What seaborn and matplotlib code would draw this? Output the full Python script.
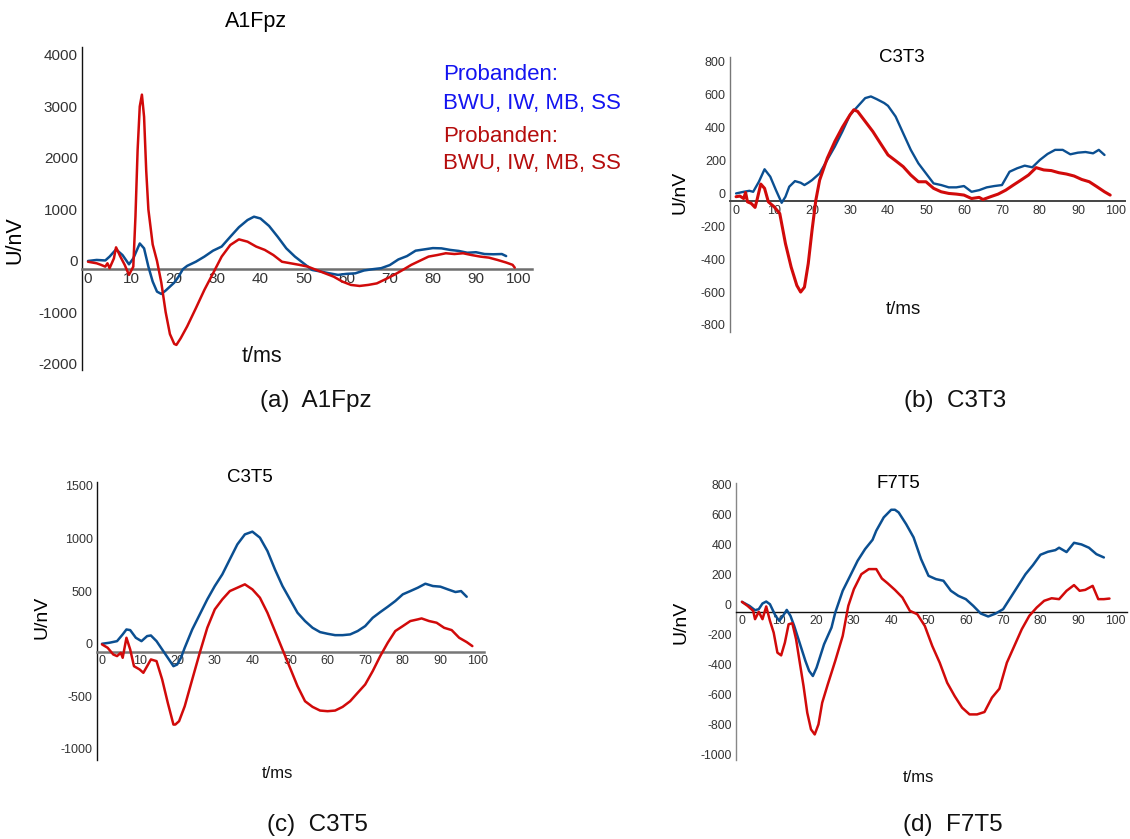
import numpy as np
import pandas as pd
import matplotlib
matplotlib.use("Agg")
import matplotlib.pyplot as plt
import seaborn as sns

# ---------------------------------------------------------------- data
# Evoked potentials, time in ms, amplitude in nV

# A1Fpz
t_a_blue = [0, 2, 4, 5, 6.5, 8, 9.5, 10.5, 12, 13, 14, 15, 16, 17, 18, 20, 21, 22, 23, 25,
            27, 29, 31, 33, 35, 37, 38.5, 40, 42, 44, 46, 48, 50, 52, 54, 56, 58, 60, 62, 64,
            66, 68, 70, 72, 74, 76, 78, 80, 82, 84, 86, 88, 90, 92, 94, 96, 97]
u_a_blue = [0, 20, 10, 85, 225, 115, -65, 50, 340, 245, -110, -400, -595, -640, -575, -420, -305, -160, -95, -15,
            85, 200, 280, 470, 655, 795, 860, 825, 680, 470, 245, 85, -45, -175, -205, -240, -270, -250, -240, -185,
            -160, -140, -80, 30, 95, 200, 225, 250, 245, 215, 195, 160, 170, 135, 130, 135, 95]
t_a_red = [0, 1, 2, 3, 4, 4.5, 5, 6, 6.5, 7.5, 8.5, 9.5, 10.5, 11, 11.5, 12, 12.5, 13, 13.5, 14,
           15, 16, 17, 18, 19, 20, 20.5, 21.5, 23, 25, 27, 29, 31, 33, 35, 37, 39, 41, 43, 45,
           47, 49, 51, 53, 55, 57, 59, 61, 63, 65, 67, 69, 71, 73, 75, 77, 79, 81, 83, 85,
           87, 89, 91, 93, 95, 97, 98.5, 99]
u_a_red = [-15, -30, -45, -75, -110, -45, -140, 50, 265, 85, -75, -270, -110, 860, 2150, 3000, 3230, 2800, 1750, 1000,
           320, 0, -420, -990, -1420, -1610, -1630, -1500, -1270, -920, -560, -240, 85, 310, 420, 375, 280, 215, 115, -15,
           -45, -75, -110, -175, -240, -305, -400, -465, -485, -465, -435, -355, -270, -175, -75, 5, 85, 115, 150, 135,
           150, 115, 85, 65, 20, -30, -75, -130]

# C3T3
t_b_blue = [0, 2, 3.5, 4.5, 6, 7.5, 9, 10.5, 12, 13, 14, 15.5, 17, 18, 19, 20, 22, 24, 26, 28,
            30, 32, 34, 35.5, 37, 39, 40, 42, 44, 46, 48, 50, 52, 54, 56, 58, 60, 62, 64, 66,
            68, 70, 72, 74, 76, 78, 80, 82, 84, 86, 88, 90, 92, 94, 95.5, 97]
u_b_blue = [0, 10, 16, 10, 71, 147, 102, 20, -57, -20, 41, 75, 65, 51, 65, 81, 122, 204, 285, 377,
            478, 529, 580, 590, 574, 550, 533, 468, 366, 265, 183, 122, 61, 51, 37, 37, 45, 10, 20, 37,
            45, 51, 132, 153, 169, 159, 204, 240, 265, 265, 238, 248, 252, 244, 265, 234]
t_b_red = [0, 1, 2, 2.5, 3, 4, 5, 5.5, 6.5, 7.5, 8.5, 10, 11.5, 13, 14.5, 16, 17, 18, 19, 20,
           21, 22, 24, 26, 28, 30, 31, 32, 34, 36, 38, 40, 42, 44, 46, 48, 50, 52, 54, 56,
           58, 60, 62, 64, 65, 67, 69, 71, 73, 75, 77, 79, 81, 83, 85, 87, 89, 91, 93, 95,
           97, 98.5]
u_b_red = [-20, -16, -31, 6, -51, -61, -85, -41, 57, 31, -51, -81, -122, -305, -448, -560, -600, -570, -427, -224,
           -41, 81, 214, 316, 403, 478, 509, 499, 438, 377, 305, 234, 199, 163, 112, 71, 71, 31, 10, 0,
           -4, -10, -31, -24, -37, -20, -4, 20, 51, 81, 112, 157, 143, 139, 126, 118, 106, 85, 71, 41,
           10, -10]

# C3T5
t_c_blue = [0, 2, 4, 5.5, 6.5, 7.5, 9, 10.5, 12, 13, 14.5, 16, 17.5, 19, 20, 21, 22, 24, 26, 28,
            30, 32, 34, 36, 38, 40, 42, 44, 46, 48, 50, 52, 54, 56, 58, 60, 62, 64, 66, 68,
            70, 72, 74, 76, 78, 80, 82, 84, 86, 88, 90, 92, 94, 95.5, 97]
u_c_blue = [0, 10, 25, 89, 136, 130, 57, 25, 73, 79, 25, -54, -133, -213, -197, -133, -38, 136, 279, 422,
            549, 660, 803, 945, 1040, 1066, 1009, 882, 707, 549, 422, 295, 216, 152, 111, 95, 82, 82, 89, 121,
            168, 247, 301, 352, 406, 470, 501, 533, 571, 549, 543, 517, 492, 501, 447]
t_c_red = [0, 1.5, 3, 4, 5, 5.5, 6.5, 7.5, 8.5, 10, 11, 12, 13, 14.5, 16, 17.5, 19, 19.5, 20.5, 22,
           24, 26, 28, 30, 32, 34, 36, 38, 40, 42, 44, 46, 48, 50, 52, 54, 56, 58, 60, 62,
           64, 66, 68, 70, 72, 74, 76, 78, 80, 82, 84, 85, 87, 89, 91, 93, 95, 97, 98.5]
u_c_red = [-6, -38, -102, -117, -86, -133, 57, -54, -213, -244, -276, -213, -149, -165, -339, -562, -768, -768, -736, -594,
           -339, -86, 152, 327, 422, 501, 533, 565, 517, 438, 295, 121, -54, -228, -403, -546, -600, -635, -641, -635,
           -600, -546, -466, -387, -260, -117, 10, 121, 168, 216, 232, 241, 216, 200, 152, 130, 57, 16, -22]

# F7T5
t_d_blue = [0, 2, 3.5, 4.5, 5.5, 6.5, 7.5, 9, 10, 11, 12, 13, 14, 15, 16, 17, 18, 19, 20, 21,
            22, 24, 25, 27, 29, 31, 33, 35, 36, 38, 40, 41, 42, 44, 46, 48, 50, 52, 54, 56,
            58, 60, 62, 64, 66, 68, 70, 72, 74, 76, 78, 80, 82, 84, 85, 87, 89, 91, 93, 95, 97]
u_d_blue = [18, -9, -38, -31, 7, 20, 2, -76, -109, -76, -36, -76, -143, -221, -299, -377, -444, -478, -422, -344,
            -266, -154, -54, 92, 192, 293, 371, 433, 494, 583, 634, 634, 616, 538, 449, 304, 192, 170, 159, 92,
            58, 36, -9, -60, -80, -60, -31, 47, 125, 203, 264, 333, 353, 364, 380, 351, 413, 402, 380, 337, 315]
t_d_red = [0, 1.5, 3, 3.5, 4.5, 5.5, 6.5, 7.5, 8.5, 9.5, 10.5, 11.5, 12.5, 13.5, 14.5, 15.5, 16.5, 17.5, 18.5, 19.5,
           20.5, 21.5, 23, 25, 27, 28.5, 30, 32, 34, 36, 37.5, 39, 41, 43, 45, 47, 49, 51, 53, 55,
           57, 59, 61, 63, 65, 67, 69, 71, 73, 75, 77, 79, 81, 83, 85, 87, 89, 90.5, 92, 94,
           95.5, 97, 98.5]
u_d_red = [18, -9, -42, -98, -49, -98, -13, -109, -188, -322, -340, -255, -132, -125, -232, -389, -545, -724, -835, -869,
           -802, -657, -534, -377, -210, -9, 103, 203, 237, 237, 174, 143, 98, 47, -42, -65, -143, -277, -389, -523,
           -612, -690, -735, -735, -719, -623, -563, -389, -277, -165, -76, -20, 25, 42, 36, 92, 130, 92, 98, 125,
           36, 36, 40]

panel_titles = ["A1Fpz", "C3T3", "C3T5", "F7T5"]
captions = ["(a)  A1Fpz", "(b)  C3T3", "(c)  C3T5", "(d)  F7T5"]
x_ticks = list(range(0, 101, 10))
y_ticks = [
    [-2000, -1000, 0, 1000, 2000, 3000, 4000],
    [-800, -600, -400, -200, 0, 200, 400, 600, 800],
    [-1000, -500, 0, 500, 1000, 1500],
    [-1000, -800, -600, -400, -200, 0, 200, 400, 600, 800],
]
legend_lines = ["Probanden:", "BWU, IW, MB, SS"]

series = [
    (t_a_blue, u_a_blue, t_a_red, u_a_red),
    (t_b_blue, u_b_blue, t_b_red, u_b_red),
    (t_c_blue, u_c_blue, t_c_red, u_c_red),
    (t_d_blue, u_d_blue, t_d_red, u_d_red),
]

# ---------------------------------------------------------------- layout
W, H = 1130, 839
BLUE = "#0b4f91"
RED = "#d10a0a"

sns.set_theme(style="white")
plt.rcParams["font.family"] = ["Liberation Sans", "DejaVu Sans"]

fig = plt.figure(figsize=(W / 100, H / 100), dpi=100)
fig.patch.set_facecolor("white")


def rect(l, t, r, b):
    return [l / W, 1 - b / H, (r - l) / W, (b - t) / H]


def ftext(x, y, s, **kw):
    fig.text(x / W, 1 - y / H, s, ha=kw.pop("ha", "center"), va=kw.pop("va", "center"), **kw)


layout = [
    dict(box=(82, 47, 532, 370), xlim=(-1.4, 103), ylim=(-2117, 4155), base=-155,
         tick_fs=11, xtick_fs=11, left_c="#111111", left_lw=1.0, base_c="#6e6e6e", base_lw=1.8,
         title=(256, 22, 15.5), ylab=(15, 240, 15.5), tlab=(262, 357, 15.5), cap=(316, 401, 17.5),
         lw_blue=1.8, lw_red=1.8),
    dict(box=(730, 57, 1125, 332), xlim=(-1.6, 102.4), ylim=(-843, 830), base=-49,
         tick_fs=9, xtick_fs=9, left_c="#777777", left_lw=1.0, base_c="#444444", base_lw=1.4,
         title=(902, 57, 13.5), ylab=(680, 192, 14), tlab=(903, 310, 13.5), cap=(955, 401, 17.5),
         lw_blue=1.7, lw_red=2.2),
    dict(box=(97, 482, 484, 760), xlim=(-1.33, 101.6), ylim=(-1105, 1538), base=-76,
         tick_fs=9, xtick_fs=9, left_c="#111111", left_lw=1.0, base_c="#777777", base_lw=1.8,
         title=(250, 478, 13.5), ylab=(42, 617, 14), tlab=(277, 773, 12), cap=(317, 825, 17.5),
         lw_blue=1.8, lw_red=1.8),
    dict(box=(736, 483, 1127, 760), xlim=(-1.6, 103.2), ylim=(-1040, 813), base=-47,
         tick_fs=8.8, xtick_fs=8.8, left_c="#888888", left_lw=1.0, base_c="#111111", base_lw=1.0,
         title=(898, 483, 13.5), ylab=(681, 622, 14), tlab=(918, 778, 12), cap=(953, 825, 17.5),
         lw_blue=1.8, lw_red=1.8),
]

for i, (spec, (tb, ub, tr, ur)) in enumerate(zip(layout, series)):
    ax = fig.add_axes(rect(*spec["box"]))
    ax.set_facecolor("white")
    blue_df = pd.DataFrame({"t": tb, "U": ub})
    red_df = pd.DataFrame({"t": tr, "U": ur})
    sns.lineplot(data=blue_df, x="t", y="U", color=BLUE, linewidth=spec["lw_blue"],
                 estimator=None, ax=ax, zorder=4)
    sns.lineplot(data=red_df, x="t", y="U", color=RED, linewidth=spec["lw_red"],
                 estimator=None, ax=ax, zorder=5)

    ax.set_xlim(*spec["xlim"])
    ax.set_ylim(*spec["ylim"])
    ax.set_xticks(x_ticks)
    ax.set_xticklabels([str(v) for v in x_ticks])
    ax.set_yticks(y_ticks[i])
    ax.set_yticklabels([str(v) for v in y_ticks[i]])
    ax.set_xlabel("")
    ax.set_ylabel("")
    ax.grid(False)

    for side in ("top", "right"):
        ax.spines[side].set_visible(False)
    ax.spines["left"].set_color(spec["left_c"])
    ax.spines["left"].set_linewidth(spec["left_lw"])
    ax.spines["bottom"].set_position(("data", spec["base"]))
    ax.spines["bottom"].set_color(spec["base_c"])
    ax.spines["bottom"].set_linewidth(spec["base_lw"])
    ax.spines["bottom"].set_zorder(3)

    ax.tick_params(axis="y", length=0, pad=3, labelsize=spec["tick_fs"], labelcolor="#333333")
    ax.tick_params(axis="x", length=0, pad=2.5, labelsize=spec["xtick_fs"], labelcolor="#333333")

    tx, ty, tfs = spec["title"]
    ftext(tx, ty, panel_titles[i], fontsize=tfs, color="black")
    yx, yy, yfs = spec["ylab"]
    ftext(yx, yy, "U/nV", fontsize=yfs, rotation=90, color="black")
    lx, ly, lfs = spec["tlab"]
    ftext(lx, ly, "t/ms", fontsize=lfs, color="#111111")
    cx, cy, cfs = spec["cap"]
    ftext(cx, cy, captions[i], fontsize=cfs, color="#111111")

# group key in panel (a)
ftext(443, 74, legend_lines[0], fontsize=16, color="#1414f0", ha="left")
ftext(443, 103, legend_lines[1], fontsize=16, color="#1414f0", ha="left")
ftext(443, 136, legend_lines[0], fontsize=16, color="#b50d0d", ha="left")
ftext(443, 164, legend_lines[1], fontsize=16, color="#b50d0d", ha="left")

fig.savefig("out.png", dpi=100, facecolor="white")
